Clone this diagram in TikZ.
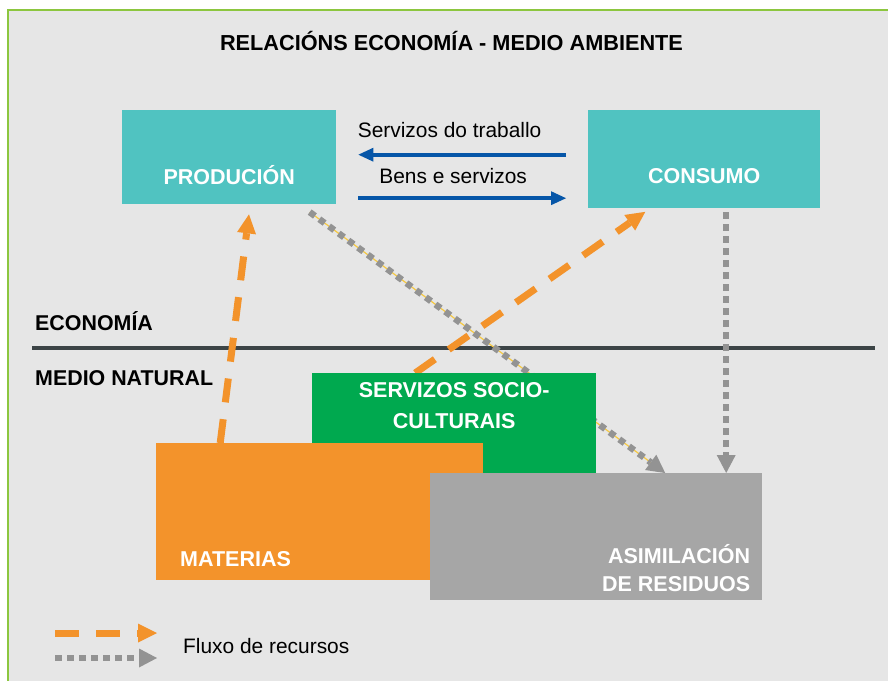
\documentclass[tikz,border=0pt]{standalone}
\usepackage{fontspec}
\setmainfont{Liberation Sans}
\usetikzlibrary{arrows.meta,positioning}

\definecolor{fondo}{HTML}{E6E6E6}
\definecolor{marco}{HTML}{8CC63F}
\definecolor{turquesa}{HTML}{50C3C1}
\definecolor{verde}{HTML}{00A94F}
\definecolor{laranxa}{HTML}{F3932B}
\definecolor{gris}{HTML}{A6A6A6}
\definecolor{grisfluxo}{HTML}{939393}
\definecolor{azul}{HTML}{0656A8}
\definecolor{liña}{HTML}{3C4446}
\definecolor{amarelo}{HTML}{F5C842}

\pgfdeclarelayer{fundo}
\pgfdeclarelayer{caixas}
\pgfsetlayers{fundo,main,caixas}

\tikzset{
  caixa/.style={rectangle, inner sep=0pt, anchor=north west},
  rotulo/.style={text=white, inner sep=0pt, font=\bfseries\fontsize{21.5}{30}\selectfont},
  texto/.style={text=black, inner sep=0pt, font=\fontsize{20.9}{25}\selectfont},
  recurso/.style={color=laranxa, line width=7pt, dash pattern=on 24pt off 17pt,
    -{Triangle[length=19pt,width=19pt,line width=0pt]}},
  residuo/.style={color=grisfluxo, line width=6.5pt, dash pattern=on 6.5pt off 5.5pt,
    -{Triangle[length=18pt,width=19pt,line width=0pt]}},
  fluxo/.style={color=azul, line width=4pt, -{Triangle[length=15pt,width=14pt,line width=0pt]}},
}

\begin{document}
\begin{tikzpicture}[x=1pt,y=-1pt]
\useasboundingbox (0,0) rectangle (888,680);

\begin{pgfonlayer}{fundo}
\fill[white] (0,0) rectangle (888,680);
\draw[marco, fill=fondo, line width=1.5pt] (8,10) rectangle (894,690);
\coordinate (limite-a) at (32,348);
\coordinate (limite-b) at (875,348);
\draw[liña, line width=4pt] (limite-a) -- (limite-b);
\end{pgfonlayer}

\node[texto, anchor=base, font=\bfseries\fontsize{21.7}{26}\selectfont] (titulo) at (451.5,50) {RELACIÓNS ECONOMÍA - MEDIO AMBIENTE};
\node[texto, anchor=base west, font=\bfseries\fontsize{21.4}{25}\selectfont] (economia) at (35,330) {ECONOMÍA};
\node[texto, anchor=base west, font=\bfseries\fontsize{21.4}{25}\selectfont] (natural) at (35,385.5) {MEDIO NATURAL};

% caixas
\begin{pgfonlayer}{caixas}
\node[caixa, fill=turquesa, minimum width=214pt, minimum height=94pt] (producion) at (122,110) {};
\node[caixa, fill=turquesa, minimum width=232pt, minimum height=98pt] (consumo) at (588,110) {};
\node[caixa, fill=verde, minimum width=284pt, minimum height=127pt] (socio) at (312,373) {};
\node[caixa, fill=laranxa, minimum width=327pt, minimum height=137pt] (materias) at (156,443) {};
\node[caixa, fill=gris, minimum width=332pt, minimum height=127pt] (asimilacion) at (430,473) {};

\node[rotulo, anchor=base] (producion-txt) at ([yshift=-74.5pt]producion.north) {PRODUCIÓN};
\node[rotulo, anchor=base] (consumo-txt) at ([yshift=-73pt]consumo.north) {CONSUMO};
\node[rotulo, anchor=north, align=center, font=\bfseries\fontsize{21.5}{31}\selectfont] (socio-txt) at ([yshift=-9.5pt]socio.north) {SERVIZOS SOCIO-\\CULTURAIS};
\node[rotulo, anchor=base west] (materias-txt) at ([xshift=24pt,yshift=13.5pt]materias.south west) {MATERIAS};
\node[rotulo, anchor=north east, align=right, font=\bfseries\fontsize{21.5}{28}\selectfont] (asimilacion-txt) at ([xshift=-12pt,yshift=-71pt]asimilacion.north east) {ASIMILACIÓN\\DE RESIDUOS};
\end{pgfonlayer}

% fluxos economicos
\draw[fluxo, shorten <=22pt, shorten >=22pt] ([yshift=4.5pt]consumo.west) -- node[texto, pos=0.55, above=14.5pt] (traballo) {Servizos do traballo} ([yshift=2.5pt]producion.east);
\draw[fluxo, shorten <=22pt, shorten >=22pt] ([yshift=-41pt]producion.east) -- node[texto, pos=0.464, above=12pt] (bens) {Bens e servizos} ([yshift=-39pt]consumo.west);

% recursos e residuos
\draw[recurso, shorten >=10pt] ([xshift=-99.5pt]materias.north) -- ([xshift=21pt]producion.south);
\draw[recurso, shorten >=6pt] ([xshift=-39pt]socio.north) -- ([xshift=-54pt]consumo.south);
\draw[amarelo, line width=1.2pt, shorten <=13pt, shorten >=18pt] ([xshift=70pt]producion.south) -- ([xshift=69pt]asimilacion.north);
\draw[residuo, shorten <=13pt] ([xshift=70pt]producion.south) -- ([xshift=69pt]asimilacion.north);
\draw[residuo, shorten <=4pt] ([xshift=22pt]consumo.south) -- ([xshift=130pt]asimilacion.north);

% lenda
\coordinate (lenda-r1) at (55,633);
\coordinate (lenda-r2) at (157,633);
\coordinate (lenda-g1) at (55,658);
\coordinate (lenda-g2) at (157,658);
\draw[recurso] (lenda-r1) -- (lenda-r2);
\draw[residuo] (lenda-g1) -- (lenda-g2);
\node[texto, anchor=base west] (lenda-txt) at (183,653.5) {Fluxo de recursos};
\end{tikzpicture}
\end{document}
